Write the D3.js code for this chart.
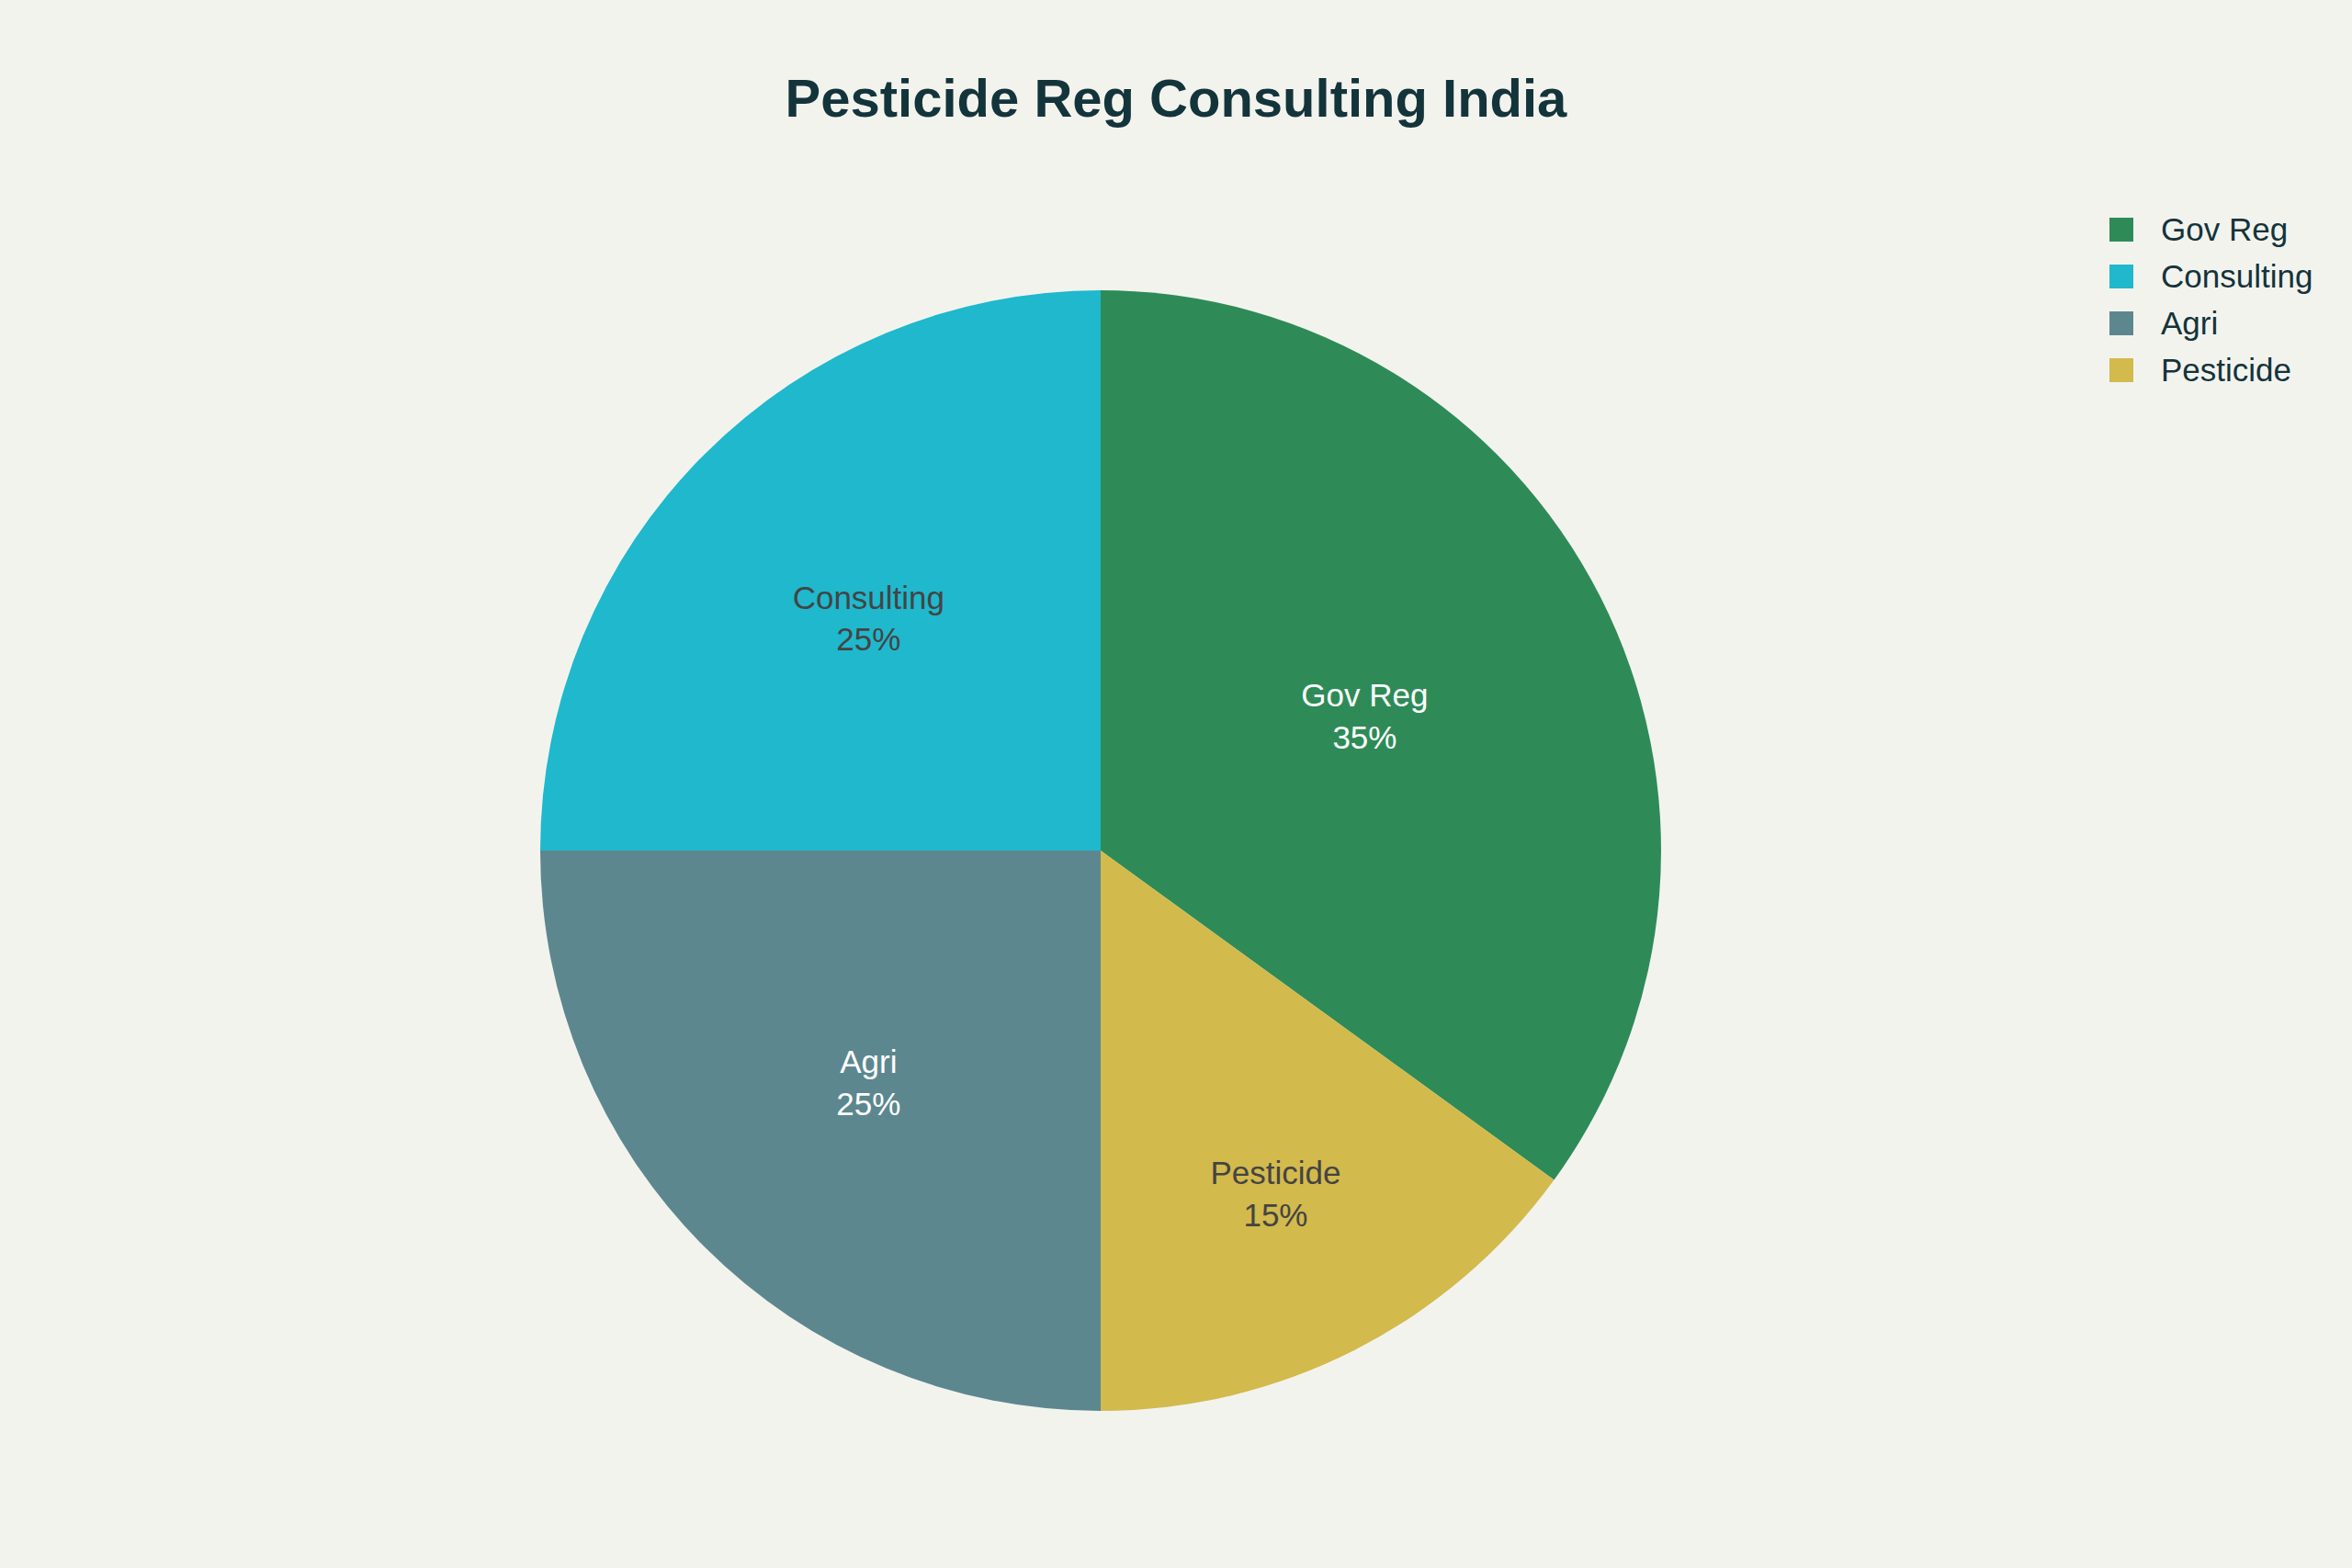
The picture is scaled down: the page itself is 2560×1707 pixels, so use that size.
<!DOCTYPE html>
<html>
<head>
<meta charset="utf-8">
<script src="https://cdn.jsdelivr.net/npm/d3@7"></script>
<style>
  html, body { margin: 0; padding: 0; background: #f3f3ee; }
  svg { display: block; }
</style>
</head>
<body>
<svg id="chart"></svg>
<script>
(function () {
const categories = ["Gov Reg", "Consulting", "Agri", "Pesticide"];
const shares = [35, 25, 25, 15];
const colors = ["#2e8b57", "#1fb8cd", "#5d878f", "#d2ba4c"];
const titleText = "Pesticide Reg Consulting India";

const width = 2560;
const height = 1707;
const cx = 1198;
const cy = 926;
const radius = 610;
const fontFamily = "'Liberation Sans', Arial, sans-serif";
const ink = "#13343b";

const svg = d3.select("#chart")
    .attr("width", width)
    .attr("height", height)
    .attr("viewBox", `0 0 ${width} ${height}`);

svg.append("rect")
    .attr("width", width)
    .attr("height", height)
    .attr("fill", "#f3f3ee");

const data = categories.map((name, i) => ({ name, value: shares[i], color: colors[i] }));
const total = d3.sum(shares);

// first slice ends at 12 o'clock, the rest run counterclockwise from there
const firstAngle = 2 * Math.PI * shares[0] / total;
const pie = d3.pie()
    .sort(null)
    .value(d => d.value)
    .startAngle(firstAngle)
    .endAngle(firstAngle - 2 * Math.PI);

const arc = d3.arc().innerRadius(0).outerRadius(radius);
const arcs = pie(data);

const g = svg.append("g").attr("transform", `translate(${cx},${cy})`);

g.selectAll("path")
    .data(arcs)
    .join("path")
    .attr("d", arc)
    .attr("fill", d => d.data.color);

function isDark(hex) {
    const c = d3.rgb(hex);
    const lum = (0.299 * c.r + 0.587 * c.g + 0.114 * c.b) / 255;
    return lum < 0.55;
}

const fontSize = 35;
const lineGap = fontSize * 1.3;

const labels = g.selectAll("g.slice-label")
    .data(arcs)
    .join("g")
    .attr("class", "slice-label")
    .attr("transform", d => {
        const mid = (d.startAngle + d.endAngle) / 2;
        const half = Math.abs(d.endAngle - d.startAngle) / 2;
        const inscribed = Math.min(1 / (1 + 1 / Math.sin(half)), 0.5);
        const rc = radius * (1 - inscribed);
        return `translate(${rc * Math.sin(mid)},${-rc * Math.cos(mid)})`;
    });

labels.append("text")
    .attr("text-anchor", "middle")
    .attr("font-family", fontFamily)
    .attr("font-size", fontSize)
    .attr("fill", d => isDark(d.data.color) ? "#ffffff" : "#444444")
    .selectAll("tspan")
    .data(d => [d.data.name, Math.round(d.data.value / total * 100) + "%"])
    .join("tspan")
    .attr("x", 0)
    .attr("y", (t, i) => (i - 0.5) * lineGap + fontSize * 0.35)
    .text(t => t);

svg.append("text")
    .attr("x", width / 2)
    .attr("y", 127)
    .attr("text-anchor", "middle")
    .attr("font-family", fontFamily)
    .attr("font-weight", "bold")
    .attr("font-size", 58)
    .attr("fill", ink)
    .text(titleText);

const legend = svg.append("g").attr("transform", "translate(2296,250)");
const rowStep = 51;

const rows = legend.selectAll("g")
    .data(data)
    .join("g")
    .attr("transform", (d, i) => `translate(0,${i * rowStep})`);

rows.append("rect")
    .attr("x", 0)
    .attr("y", -13)
    .attr("width", 26)
    .attr("height", 26)
    .attr("fill", d => d.color);

rows.append("text")
    .attr("x", 56)
    .attr("y", 12)
    .attr("font-family", fontFamily)
    .attr("font-size", fontSize)
    .attr("fill", ink)
    .text(d => d.name);
})();
</script>
</body>
</html>
